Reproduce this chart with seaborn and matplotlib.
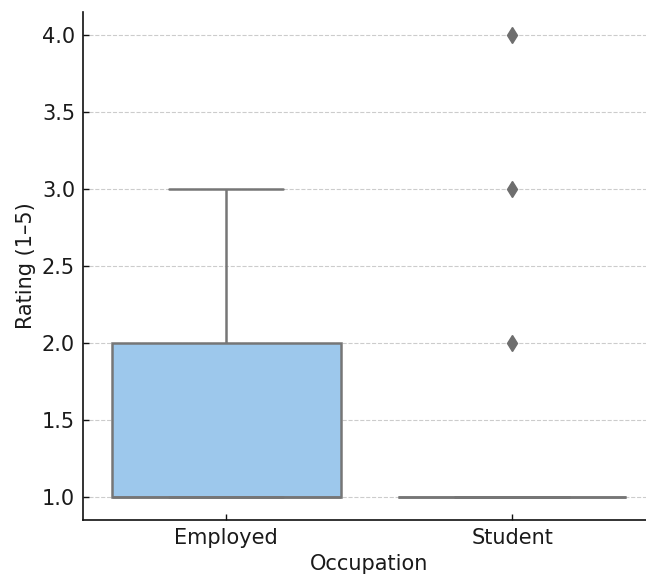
import numpy as np
import pandas as pd
import seaborn as sns
import matplotlib
matplotlib.use("Agg")
import matplotlib.pyplot as plt

# Survey responses by occupation
occupations = ["Employed", "Student"]
employed_ratings = [1, 1, 1, 1, 1, 2, 2, 3]
student_ratings = [1, 1, 1, 1, 1, 1, 1, 1, 1, 1, 1, 1, 2, 3, 4]

df = pd.DataFrame({
    "Occupation": ["Employed"] * len(employed_ratings) + ["Student"] * len(student_ratings),
    "Rating": employed_ratings + student_ratings,
})

sns.set_style("ticks")
plt.rcParams["font.family"] = ["DejaVu Sans"]

fig = plt.figure(figsize=(6.46, 5.75), dpi=100)
ax = fig.add_axes([0.129, 0.096, 0.885, 0.883])

sns.boxplot(
    data=df, x="Occupation", y="Rating", hue="Occupation",
    order=occupations, palette=["#9dc8ec", "#f7b89a"], legend=False,
    saturation=1, width=0.8, linewidth=1.8, linecolor="#767676",
    flierprops=dict(marker="d", markerfacecolor="#6e6e6e",
                    markeredgecolor="#6e6e6e", markersize=8),
    ax=ax,
)

ax.set_xlim(-0.5, 1.5)
ax.set_yticks([1.0, 1.5, 2.0, 2.5, 3.0, 3.5, 4.0])
ax.set_yticklabels([f"{v:.1f}" for v in [1.0, 1.5, 2.0, 2.5, 3.0, 3.5, 4.0]])
ax.yaxis.grid(True, linestyle="--", color="#cccccc", linewidth=0.8)
ax.set_axisbelow(True)
ax.tick_params(axis="both", labelsize=15, length=4, width=1, direction="in",
               color="#111111", labelcolor="#1a1a1a", pad=6)
ax.set_xlabel("Occupation", fontsize=15, color="#1a1a1a")
ax.set_ylabel("Rating (1–5)", fontsize=15, color="#1a1a1a")
for side in ["left", "bottom"]:
    ax.spines[side].set_color("#111111")
    ax.spines[side].set_linewidth(1.2)
sns.despine(ax=ax)

fig.savefig("out.png", dpi=100)
